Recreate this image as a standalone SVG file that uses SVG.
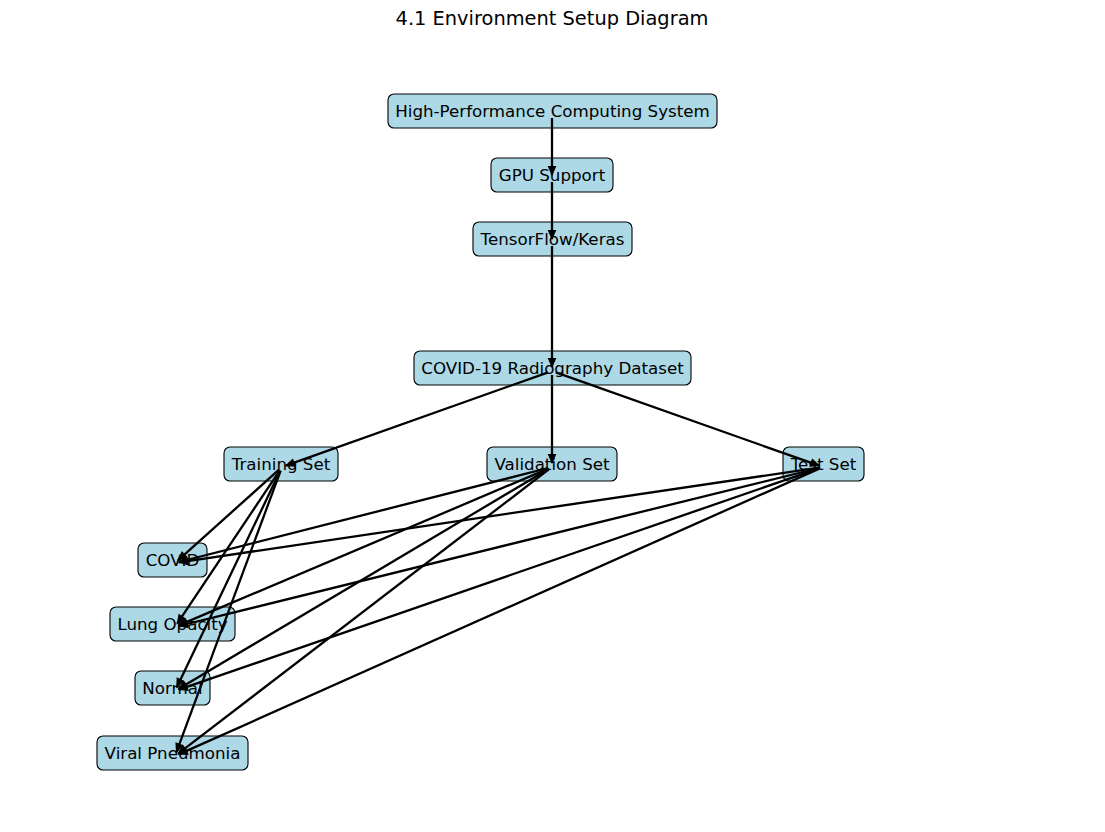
<svg xmlns="http://www.w3.org/2000/svg" width="1105" height="832" viewBox="0 0 1105 832">
<style>
.box{fill:#add8e6;stroke:#000;stroke-width:1.1}
.lbl{font-family:"DejaVu Sans",sans-serif;font-size:16.7px;text-anchor:middle;fill:#000}
.title{font-family:"DejaVu Sans",sans-serif;font-size:19.4px;text-anchor:middle;fill:#000}
.edge{stroke:#000;stroke-width:2.3;fill:none;marker-end:url(#ah)}
</style>
<defs>
<marker id="ah" markerUnits="userSpaceOnUse" markerWidth="12" markerHeight="11" refX="9.5" refY="5" orient="auto">
<path d="M1,1.5 L9,5 L1,8.5 z" fill="#000" stroke="#000" stroke-width="1.2" stroke-linejoin="miter"/>
</marker>
</defs>
<rect width="1105" height="832" fill="#fff"/>
<text class="title" x="552" y="25">4.1 Environment Setup Diagram</text>
<g id="node-hpc"><rect class="box" x="388" y="94" width="329" height="34" rx="6"/><text class="lbl" x="552.5" y="116.8">High-Performance Computing System</text></g>
<g id="node-gpu"><rect class="box" x="491" y="158" width="122" height="34" rx="6"/><text class="lbl" x="552" y="180.8">GPU Support</text></g>
<g id="node-tf"><rect class="box" x="473" y="222" width="159" height="34" rx="6"/><text class="lbl" x="552.5" y="244.8">TensorFlow/Keras</text></g>
<g id="node-dataset"><rect class="box" x="414" y="351" width="277" height="34" rx="6"/><text class="lbl" x="552.5" y="373.8">COVID-19 Radiography Dataset</text></g>
<g id="node-train"><rect class="box" x="224" y="447" width="114" height="34" rx="6"/><text class="lbl" x="281" y="469.8">Training Set</text></g>
<g id="node-val"><rect class="box" x="487" y="447" width="130" height="34" rx="6"/><text class="lbl" x="552" y="469.8">Validation Set</text></g>
<g id="node-test"><rect class="box" x="783" y="447" width="81" height="34" rx="6"/><text class="lbl" x="823.5" y="469.8">Test Set</text></g>
<g id="node-covid"><rect class="box" x="138" y="543" width="69" height="34" rx="6"/><text class="lbl" x="172.5" y="565.8">COVID</text></g>
<g id="node-lung"><rect class="box" x="110" y="607" width="125" height="34" rx="6"/><text class="lbl" x="172.5" y="629.8">Lung Opacity</text></g>
<g id="node-normal"><rect class="box" x="135" y="671" width="75" height="34" rx="6"/><text class="lbl" x="172.5" y="693.8">Normal</text></g>
<g id="node-viral"><rect class="box" x="97" y="736" width="151" height="34" rx="6"/><text class="lbl" x="172.5" y="758.8">Viral Pneumonia</text></g>
<g id="connectors">
<line class="edge" x1="552" y1="118" x2="552" y2="175"/>
<line class="edge" x1="552" y1="182" x2="552" y2="239"/>
<line class="edge" x1="552" y1="246" x2="552" y2="367"/>
<line class="edge" x1="548.2" y1="372.3" x2="285.8" y2="465.7"/>
<line class="edge" x1="552" y1="375" x2="552" y2="463"/>
<line class="edge" x1="555.8" y1="372.3" x2="819.2" y2="465.7"/>
<line class="edge" x1="279.0" y1="469.7" x2="178.0" y2="560.3"/>
<line class="edge" x1="279.8" y1="470.3" x2="177.2" y2="623.7"/>
<line class="edge" x1="280.3" y1="470.6" x2="176.7" y2="687.4"/>
<line class="edge" x1="280.6" y1="470.8" x2="176.4" y2="752.2"/>
<line class="edge" x1="548.1" y1="468.0" x2="178.9" y2="562.0"/>
<line class="edge" x1="548.3" y1="468.6" x2="178.7" y2="625.4"/>
<line class="edge" x1="548.6" y1="469.0" x2="178.4" y2="689.0"/>
<line class="edge" x1="548.8" y1="469.4" x2="178.2" y2="753.6"/>
<line class="edge" x1="819.0" y1="467.6" x2="179.0" y2="562.4"/>
<line class="edge" x1="819.1" y1="468.0" x2="178.9" y2="626.0"/>
<line class="edge" x1="819.2" y1="468.3" x2="178.8" y2="689.7"/>
<line class="edge" x1="819.3" y1="468.6" x2="178.7" y2="754.4"/>
</g>
</svg>
